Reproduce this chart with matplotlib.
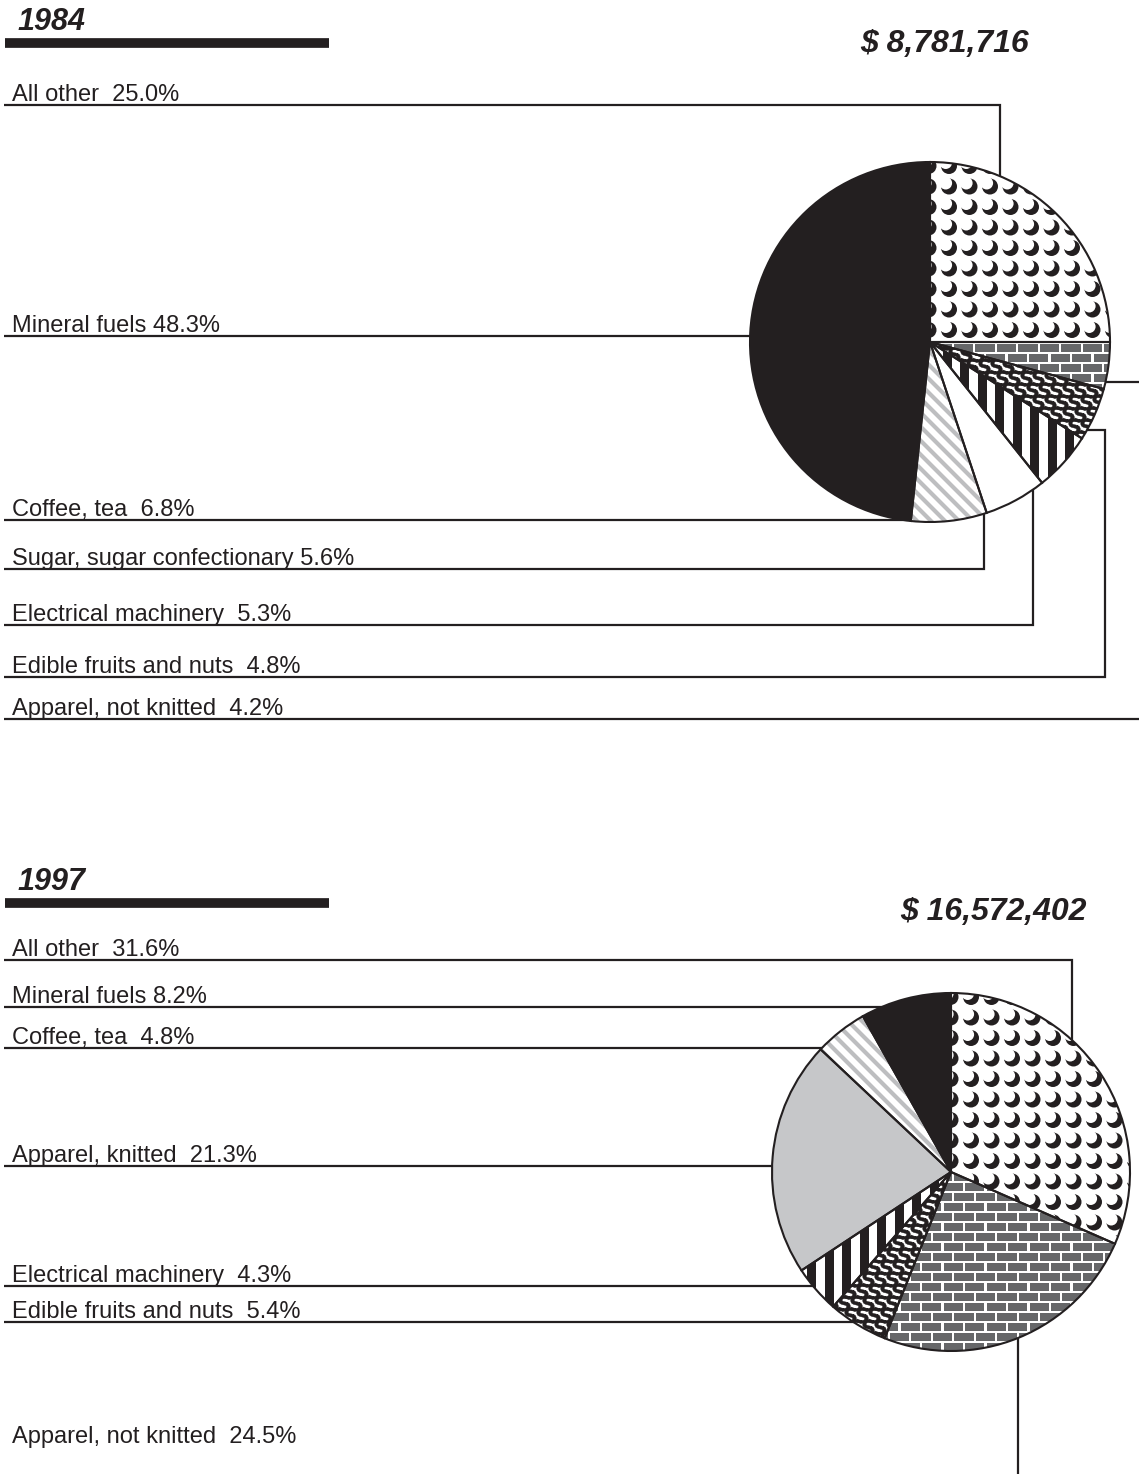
import numpy as np
import matplotlib
matplotlib.use("Agg")
import matplotlib.pyplot as plt
from matplotlib.patches import Circle, Rectangle
from matplotlib.collections import PatchCollection, LineCollection

# ---------------- data ----------------
year84 = "1984"
total84 = "$ 8,781,716"
cats84 = ["All other", "Apparel, not knitted", "Edible fruits and nuts",
          "Electrical machinery", "Sugar, sugar confectionary", "Coffee, tea",
          "Mineral fuels"]
vals84 = [25.0, 4.2, 4.8, 5.3, 5.6, 6.8, 48.3]

year97 = "1997"
total97 = "$ 16,572,402"
cats97 = ["All other", "Apparel, not knitted", "Edible fruits and nuts",
          "Electrical machinery", "Apparel, knitted", "Coffee, tea",
          "Mineral fuels"]
vals97 = [31.6, 24.5, 5.4, 4.3, 21.3, 4.8, 8.2]

# label separators (one or two spaces as printed)
single_space = ["Mineral fuels", "Sugar, sugar confectionary"]

# ---------------- style ----------------
W, H = 1139, 1474
INK = "#231f20"
plt.rcParams["font.family"] = ["Liberation Sans", "DejaVu Sans"]

pattern_of = {
    "All other": "crescent",
    "Apparel, not knitted": "brick",
    "Edible fruits and nuts": "S",
    "Electrical machinery": "stripes",
    "Sugar, sugar confectionary": "white",
    "Coffee, tea": "diag",
    "Mineral fuels": "black",
    "Apparel, knitted": "gray",
}
face_of = {"black": INK, "gray": "#c6c7c9"}

fig = plt.figure(figsize=(W / 100, H / 100), dpi=100)
ax = fig.add_axes([0, 0, 1, 1])


def Y(p):
    return H - p


def label_text(cat, v):
    sep = " " if cat in single_space else "  "
    return f"{cat}{sep}{v:.1f}%"


def add_pattern(wedge, kind, cx, cy, r):
    if kind == "crescent":
        xs = np.arange(cx - r - 6, cx + r + 20, 20.5)
        ys = np.arange(cy + r - 4, cy - r - 20, -20.5)
        blk = [Circle((x, y), 8.0) for x in xs for y in ys]
        wht = [Circle((x - 3.3, y + 3.4), 6.4) for x in xs for y in ys]
        for pts, col, z in ((blk, INK, 3), (wht, "white", 3.1)):
            pc = PatchCollection(pts, facecolor=col, edgecolor="none", zorder=z)
            ax.add_collection(pc)
            pc.set_clip_path(wedge)
    elif kind == "brick":
        rects = []
        for i, y in enumerate(np.arange(cy - r, cy + r + 10, 10.0)):
            off = 0 if i % 2 == 0 else 10.75
            for x in np.arange(cx - r - 22 + off, cx + r + 22, 21.5):
                rects.append(Rectangle((x, y), 19.3, 7.6))
        pc = PatchCollection(rects, facecolor="#666769", edgecolor="none", zorder=3)
        ax.add_collection(pc)
        pc.set_clip_path(wedge)
    elif kind == "stripes":
        rects = [Rectangle((x, cy - r - 5), 9.0, 2 * r + 10)
                 for x in np.arange(cx - r, cx + r + 18, 17.5)]
        pc = PatchCollection(rects, facecolor=INK, edgecolor="none", zorder=3)
        ax.add_collection(pc)
        pc.set_clip_path(wedge)
    elif kind == "diag":
        segs = []
        for c in np.arange(-2 * r, 2 * r, 14.0):
            segs.append([(cx - r - 10, cy + c + (r + 10)), (cx + r + 10, cy + c - (r + 10))])
        lc = LineCollection(segs, colors="#bdbec0", linewidths=3.0, zorder=3)
        ax.add_collection(lc)
        lc.set_clip_path(wedge)
    elif kind == "S":
        pts = []
        for i, y in enumerate(np.arange(cy - r, cy + r, 12.0)):
            off = 0 if i % 2 == 0 else 6.0
            for x in np.arange(cx - r + off, cx + r, 12.0):
                pts.append((x, y))
        pts = np.array(pts)
        sc = ax.scatter(pts[:, 0], pts[:, 1], marker=r"$\mathbf{S}$", s=120,
                        color=INK, linewidths=0.3, edgecolors=INK, zorder=3)
        sc.set_clip_path(wedge)


def draw_pie(cats, vals, cx_px, cy_px, r):
    cx, cy = cx_px, Y(cy_px)
    kinds = [pattern_of[c] for c in cats]
    faces = [face_of.get(k, "white") for k in kinds]
    wedges, _ = ax.pie(vals, colors=faces, startangle=90, counterclock=False,
                       center=(cx, cy), radius=r,
                       wedgeprops=dict(edgecolor="none", linewidth=0, zorder=2))
    for w, k in zip(wedges, kinds):
        add_pattern(w, k, cx, cy, r)
    ax.pie(vals, startangle=90, counterclock=False, center=(cx, cy), radius=r,
           wedgeprops=dict(fill=False, edgecolor=INK, linewidth=1.5, zorder=4))


def leader(points):
    xs = [p[0] for p in points]
    ys = [Y(p[1]) for p in points]
    ax.plot(xs, ys, color=INK, lw=1.6, zorder=1, solid_capstyle="butt",
            solid_joinstyle="miter")


def label(txt, y_line):
    ax.text(12, Y(y_line - 4), txt, fontsize=17.0, color=INK, ha="left",
            va="baseline", parse_math=False, zorder=5)


def header(year, total, y_base, tx, ty_base):
    ax.text(17, Y(y_base), year, fontsize=22, fontweight="bold", style="italic",
            color=INK, va="baseline", parse_math=False)
    ax.plot([5, 329], [Y(y_base + 13), Y(y_base + 13)], color=INK, lw=7.0,
            solid_capstyle="butt", zorder=1)
    ax.text(tx, Y(ty_base), total, fontsize=23, fontweight="bold", style="italic",
            color=INK, va="baseline", parse_math=False)


# ---------------- 1984 ----------------
header(year84, total84, 30, 860, 52)
draw_pie(cats84, vals84, 930, 342, 180)
lab84 = {c: label_text(c, v) for c, v in zip(cats84, vals84)}
label(lab84["All other"], 105)
leader([(4, 105), (1000, 105), (1000, 260)])
label(lab84["Mineral fuels"], 336)
leader([(4, 336), (930, 336)])
label(lab84["Coffee, tea"], 520)
leader([(4, 520), (930, 520)])
label(lab84["Sugar, sugar confectionary"], 569)
leader([(4, 569), (984, 569), (984, 420)])
label(lab84["Electrical machinery"], 625)
leader([(4, 625), (1033, 625), (1033, 420)])
label(lab84["Edible fruits and nuts"], 677)
leader([(4, 677), (1105, 677), (1105, 430), (1050, 430)])
label(lab84["Apparel, not knitted"], 719)
leader([(4, 719), (1139, 719)])
leader([(1050, 382), (1139, 382)])

# ---------------- 1997 ----------------
header(year97, total97, 890, 900, 920)
draw_pie(cats97, vals97, 951, 1172, 179)
lab97 = {c: label_text(c, v) for c, v in zip(cats97, vals97)}
label(lab97["All other"], 960)
leader([(4, 960), (1072, 960), (1072, 1100)])
label(lab97["Mineral fuels"], 1007)
leader([(4, 1007), (951, 1007)])
label(lab97["Coffee, tea"], 1048)
leader([(4, 1048), (951, 1048)])
label(lab97["Apparel, knitted"], 1166)
leader([(4, 1166), (951, 1166)])
label(lab97["Electrical machinery"], 1286)
leader([(4, 1286), (951, 1286)])
label(lab97["Edible fruits and nuts"], 1322)
leader([(4, 1322), (951, 1322)])
label(lab97["Apparel, not knitted"], 1447)
leader([(1018, 1250), (1018, 1480)])

ax.set_xlim(0, W)
ax.set_ylim(0, H)
ax.set_aspect("equal")
ax.axis("off")
fig.savefig("out.png", dpi=100, facecolor="white")
